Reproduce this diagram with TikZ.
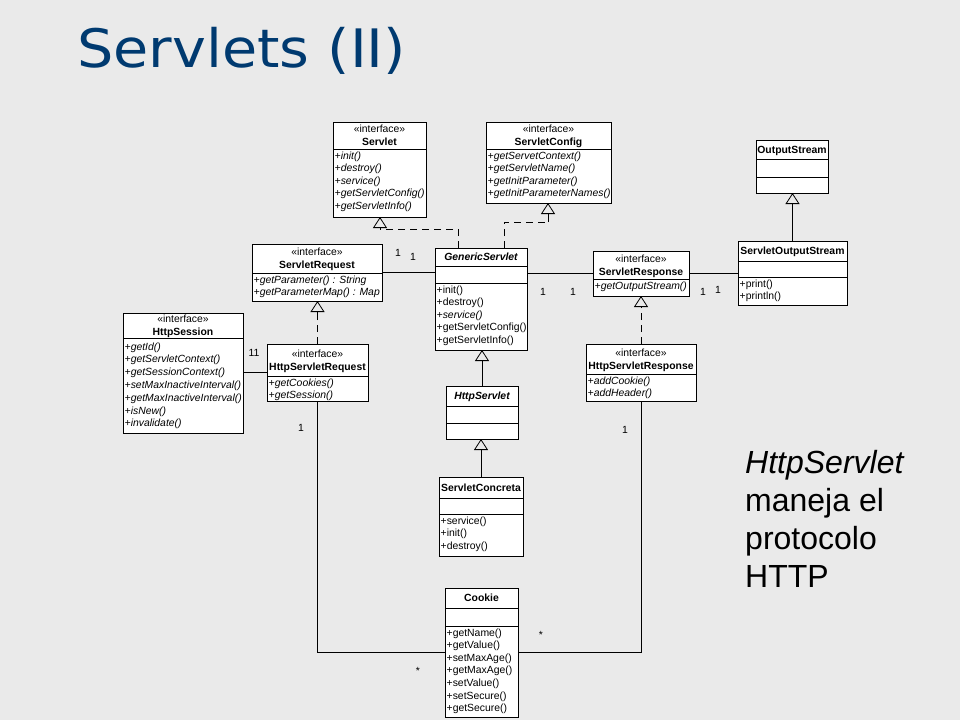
\documentclass[tikz,border=0pt]{standalone}
\usepackage{fontspec}
\setmainfont{Liberation Sans}
\newfontfamily\titlefont[FakeStretch=1.08]{DejaVu Sans}
\usetikzlibrary{arrows.meta}
\definecolor{bgcol}{RGB}{234,234,234}
\definecolor{titleblue}{RGB}{0,58,112}
\newcommand\umlf{\fontsize{10.4}{12.5}\selectfont}
\begin{document}
\begin{tikzpicture}[x=1pt,y=-1pt,
  cls/.style={draw, fill=white, line width=0.8pt, anchor=north west, inner sep=0pt, outer sep=0pt},
  sepline/.style={line width=0.8pt},
  mtxt/.style={anchor=base west, inner sep=0pt, font=\umlf},
  mit/.style={anchor=base west, inner sep=0pt, font=\umlf\itshape},
  stereo/.style={anchor=base, inner sep=0pt, font=\umlf},
  cname/.style={anchor=base, inner sep=0pt, font=\umlf\bfseries},
  aname/.style={anchor=base, inner sep=0pt, font=\umlf\bfseries\itshape},
  mult/.style={inner sep=0pt, font=\umlf},
  assoc/.style={line width=0.8pt},
  dashedline/.style={line width=0.8pt, dash pattern=on 7pt off 5pt},
  gen/.style={line width=0.8pt, -{Triangle[open, length=11pt, width=14pt]}},
  note/.style={anchor=base west, inner sep=0pt, font=\fontsize{32}{38}\selectfont},
]
\fill[bgcol] (0,0) rectangle (960,720);
\useasboundingbox (0,0) rectangle (960,720);

% title
\node[anchor=base west, inner sep=0pt, font=\titlefont\fontsize{53}{60}\selectfont, text=titleblue] (title) at (77,67) {Servlets (II)};

% note
\node[note] (note1) at (745,473) {\itshape HttpServlet};
\node[note] (note2) at (745,511) {maneja el};
\node[note] (note3) at (745,549) {protocolo};
\node[note] (note4) at (745,587) {HTTP};

% ---- Servlet
\node[cls, minimum width=93pt, minimum height=95pt] (servlet) at (333,122) {};
\draw[sepline] (333,149) -- (426,149);
\node[stereo] (servlet-s) at (379.5,132.5) {«interface»};
\node[cname] (servlet-n) at (379.5,145.5) {Servlet};
\node[mit] (servlet-m1) at (334.5,159) {+init()};
\node[mit] (servlet-m2) at (334.5,171.6) {+destroy()};
\node[mit] (servlet-m3) at (334.5,184.2) {+service()};
\node[mit] (servlet-m4) at (334.5,196.8) {+getServletConfig()};
\node[mit] (servlet-m5) at (334.5,209.4) {+getServletInfo()};

% ---- ServletConfig
\node[cls, minimum width=125pt, minimum height=81pt] (sconfig) at (486,122) {};
\draw[sepline] (486,149) -- (611,149);
\node[stereo] (sconfig-s) at (548.5,132.5) {«interface»};
\node[cname] (sconfig-n) at (548.5,145.5) {ServletConfig};
\node[mit] (sconfig-m1) at (487.5,159) {+getServetContext()};
\node[mit] (sconfig-m2) at (487.5,171.6) {+getServletName()};
\node[mit] (sconfig-m3) at (487.5,184.2) {+getInitParameter()};
\node[mit] (sconfig-m4) at (487.5,196.8) {+getInitParameterNames()};

% ---- OutputStream
\node[cls, minimum width=72pt, minimum height=53pt] (ostream) at (756,140) {};
\draw[sepline] (756,159) -- (828,159);
\draw[sepline] (756,177) -- (828,177);
\node[cname] (ostream-n) at (792,153.2) {OutputStream};

% ---- ServletRequest
\node[cls, minimum width=130pt, minimum height=57pt] (sreq) at (252,244) {};
\draw[sepline] (252,273) -- (382,273);
\node[stereo] (sreq-s) at (317,255.5) {«interface»};
\node[cname] (sreq-n) at (317,268.5) {ServletRequest};
\node[mit] (sreq-m1) at (253.5,283) {+getParameter() : String};
\node[mit] (sreq-m2) at (253.5,295.6) {+getParameterMap() : Map};

% ---- GenericServlet
\node[cls, minimum width=92pt, minimum height=102pt] (generic) at (435,248) {};
\draw[sepline] (435,266) -- (527,266);
\draw[sepline] (435,283) -- (527,283);
\node[aname] (generic-n) at (481,260.7) {GenericServlet};
\node[mtxt] (generic-m1) at (436.5,293) {+init()};
\node[mtxt] (generic-m2) at (436.5,305.6) {+destroy()};
\node[mit] (generic-m3) at (436.5,318.2) {+service()};
\node[mtxt] (generic-m4) at (436.5,330.8) {+getServletConfig()};
\node[mtxt] (generic-m5) at (436.5,343.4) {+getServletInfo()};

% ---- ServletResponse
\node[cls, minimum width=96pt, minimum height=45pt] (sresp) at (593,251) {};
\draw[sepline] (593,279) -- (689,279);
\node[stereo] (sresp-s) at (641,262) {«interface»};
\node[cname] (sresp-n) at (641,275) {ServletResponse};
\node[mit] (sresp-m1) at (594.5,289) {+getOutputStream()};

% ---- ServletOutputStream
\node[cls, minimum width=109pt, minimum height=64pt] (sos) at (738,241) {};
\draw[sepline] (738,261) -- (847,261);
\draw[sepline] (738,277) -- (847,277);
\node[cname] (sos-n) at (792.5,254.7) {ServletOutputStream};
\node[mtxt] (sos-m1) at (739.5,287) {+print()};
\node[mtxt] (sos-m2) at (739.5,299.6) {+println()};

% ---- HttpSession
\node[cls, minimum width=120pt, minimum height=120pt] (session) at (123,313) {};
\draw[sepline] (123,338) -- (243,338);
\node[stereo] (session-s) at (183,322.5) {«interface»};
\node[cname] (session-n) at (183,335.5) {HttpSession};
\node[mit] (session-m1) at (124.5,350) {+getId()};
\node[mit] (session-m2) at (124.5,362.8) {+getServletContext()};
\node[mit] (session-m3) at (124.5,375.6) {+getSessionContext()};
\node[mit] (session-m4) at (124.5,388.4) {+setMaxInactiveInterval()};
\node[mit] (session-m5) at (124.5,401.2) {+getMaxInactiveInterval()};
\node[mit] (session-m6) at (124.5,414) {+isNew()};
\node[mit] (session-m7) at (124.5,426.8) {+invalidate()};

% ---- HttpServletRequest
\node[cls, minimum width=101pt, minimum height=57pt] (hreq) at (267,344) {};
\draw[sepline] (267,376) -- (368,376);
\node[stereo] (hreq-s) at (317.5,357) {«interface»};
\node[cname] (hreq-n) at (317.5,370) {HttpServletRequest};
\node[mit] (hreq-m1) at (268.5,386) {+getCookies()};
\node[mit] (hreq-m2) at (268.5,398.4) {+getSession()};

% ---- HttpServletResponse
\node[cls, minimum width=110pt, minimum height=57pt] (hresp) at (586,344) {};
\draw[sepline] (586,374) -- (696,374);
\node[stereo] (hresp-s) at (641,356) {«interface»};
\node[cname] (hresp-n) at (641,369) {HttpServletResponse};
\node[mit] (hresp-m1) at (587.5,384) {+addCookie()};
\node[mit] (hresp-m2) at (587.5,396.6) {+addHeader()};

% ---- HttpServlet
\node[cls, minimum width=72pt, minimum height=53pt] (hservlet) at (446,386) {};
\draw[sepline] (446,406) -- (518,406);
\draw[sepline] (446,423) -- (518,423);
\node[aname] (hservlet-n) at (482,399.7) {HttpServlet};

% ---- ServletConcreta
\node[cls, minimum width=84pt, minimum height=79pt] (concreta) at (439,477) {};
\draw[sepline] (439,498) -- (523,498);
\draw[sepline] (439,514) -- (523,514);
\node[cname] (concreta-n) at (481,491.2) {ServletConcreta};
\node[mtxt] (concreta-m1) at (440.5,524) {+service()};
\node[mtxt] (concreta-m2) at (440.5,536.6) {+init()};
\node[mtxt] (concreta-m3) at (440.5,549.2) {+destroy()};

% ---- Cookie
\node[cls, minimum width=73pt, minimum height=129pt] (cookie) at (445,588) {};
\draw[sepline] (445,608) -- (518,608);
\draw[sepline] (445,626) -- (518,626);
\node[cname] (cookie-n) at (481.5,601.7) {Cookie};
\node[mtxt] (cookie-m1) at (446.5,636) {+getName()};
\node[mtxt] (cookie-m2) at (446.5,648.6) {+getValue()};
\node[mtxt] (cookie-m3) at (446.5,661.2) {+setMaxAge()};
\node[mtxt] (cookie-m4) at (446.5,673.8) {+getMaxAge()};
\node[mtxt] (cookie-m5) at (446.5,686.4) {+setValue()};
\node[mtxt] (cookie-m6) at (446.5,699) {+setSecure()};
\node[mtxt] (cookie-m7) at (446.5,711.6) {+getSecure()};

% ---- connectors
\coordinate (c1a) at (458,229);
\coordinate (c1b) at (380,229);
\draw[dashedline] (generic.north -| c1a) -- (c1a) -- (c1b);
\draw[gen] (c1b) -- (servlet.south -| c1b);

\coordinate (c2a) at (504,222);
\coordinate (c2b) at (548,222);
\draw[dashedline] (generic.north -| c2a) -- (c2a) -- (c2b);
\draw[gen] (c2b) -- (sconfig.south -| c2b);

\draw[assoc] (sreq.east) -- (sreq.east -| generic.west);
\draw[assoc] (generic.east |- sresp.west) -- (sresp.west);
\draw[assoc] (sresp.east |- sos.west) -- (sos.west);
\draw[gen] (sos.north) -- (sos.north |- ostream.south);

\coordinate (c3) at (317.5,312);
\draw[dashedline] (hreq.north) -- (c3);
\draw[gen] (c3) -- (c3 |- sreq.south);

\coordinate (c4) at (641,307);
\draw[dashedline] (hresp.north) -- (c4);
\draw[gen] (c4) -- (c4 |- sresp.south);

\draw[gen] (hservlet.north) -- (hservlet.north |- generic.south);
\draw[gen] (concreta.north) -- (concreta.north |- hservlet.south);

\draw[assoc] (hreq.west) -- (hreq.west -| session.east);

\coordinate (cy) at (0,652);
\draw[assoc] (hreq.south) -- (hreq.south |- cy) -- (cookie.west |- cy);
\draw[assoc] (hresp.south) -- (hresp.south |- cy) -- (cookie.east |- cy);

% ---- multiplicities
\node[mult] (m1) at (398,253) {1};
\node[mult] (m2) at (413,257) {1};
\node[mult] (m3) at (543,292) {1};
\node[mult] (m4) at (573,292) {1};
\node[mult] (m5) at (703,292) {1};
\node[mult] (m6) at (718,290) {1};
\node[mult] (m7) at (254,353) {11};
\node[mult] (m8) at (301,428) {1};
\node[mult] (m9) at (625,430) {1};
\node[mult] (m10) at (541,635) {*};
\node[mult] (m11) at (418,671) {*};
\end{tikzpicture}
\end{document}
